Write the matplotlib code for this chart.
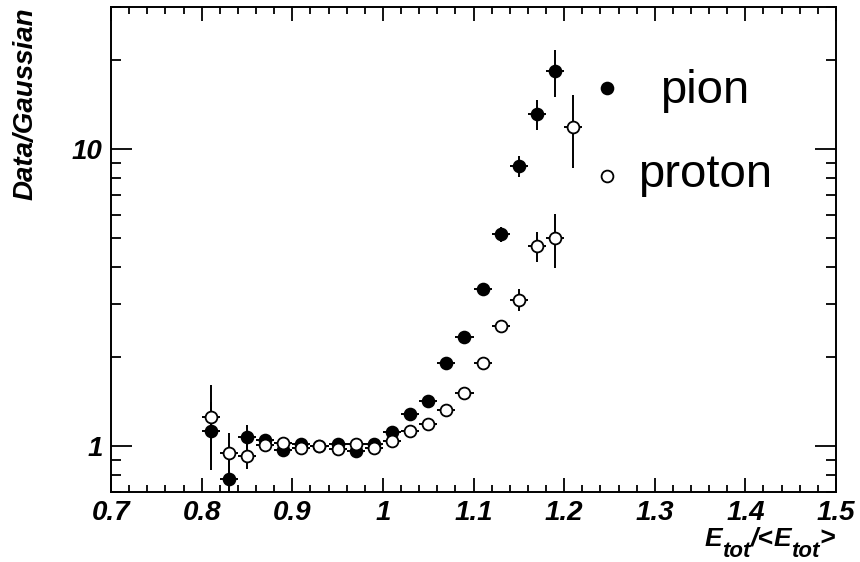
import matplotlib
matplotlib.use("Agg")
import matplotlib.pyplot as plt
from matplotlib.ticker import LogLocator, FixedLocator, MultipleLocator, FuncFormatter, NullFormatter

plt.rcParams['font.family'] = ['Liberation Sans', 'DejaVu Sans']

# bin centres, bin half width 0.01
pion_x = [0.81, 0.83, 0.85, 0.87, 0.89, 0.91, 0.93, 0.95, 0.97, 0.99,
          1.01, 1.03, 1.05, 1.07, 1.09, 1.11, 1.13, 1.15, 1.17, 1.19]
pion_y = [1.12, 0.777, 1.075, 1.05, 0.967, 1.018, 1.0, 1.015, 0.962, 1.015,
          1.118, 1.285, 1.42, 1.905, 2.32, 3.37, 5.17, 8.77, 13.1, 18.3]
pion_err = [0.29, 0.15, 0.10, 0.05, 0.04, 0.02, 0.02, 0.02, 0.02, 0.02,
            0.03, 0.03, 0.04, 0.05, 0.07, 0.12, 0.30, 0.70, 1.5, 3.3]

proton_x = [0.81, 0.83, 0.85, 0.87, 0.89, 0.91, 0.93, 0.95, 0.97, 0.99,
            1.01, 1.03, 1.05, 1.07, 1.09, 1.11, 1.13, 1.15, 1.17, 1.19, 1.21]
proton_y = [1.25, 0.95, 0.926, 1.008, 1.026, 0.988, 1.0, 0.975, 1.018, 0.988,
            1.039, 1.123, 1.19, 1.32, 1.51, 1.90, 2.53, 3.11, 4.70, 5.01, 11.9]
proton_err = [0.35, 0.16, 0.09, 0.05, 0.03, 0.02, 0.02, 0.02, 0.02, 0.02,
              0.02, 0.03, 0.03, 0.04, 0.05, 0.07, 0.10, 0.26, 0.55, 1.05, 3.3]

W, H = 860, 562
fig = plt.figure(figsize=(W/100, H/100), dpi=100)
ax = fig.add_axes([111/W, 1-492/H, 725/W, 484.7/H])

ax.errorbar(pion_x, pion_y, yerr=pion_err, xerr=0.01, fmt='none',
            ecolor='k', elinewidth=1.4, capsize=0, zorder=2)
ax.errorbar(proton_x, proton_y, yerr=proton_err, xerr=0.01, fmt='none',
            ecolor='k', elinewidth=1.4, capsize=0, zorder=2)
ax.plot(pion_x, pion_y, 'o', mfc='k', mec='k', ms=8.5, mew=1.3, zorder=3)
ax.plot(proton_x, proton_y, 'o', mfc='w', mec='k', ms=8.5, mew=1.3, zorder=4)

ax.set_xlim(0.7, 1.5)
ax.set_yscale('log')
ax.set_ylim(0.7, 30)

ax.xaxis.set_major_locator(MultipleLocator(0.1))
ax.xaxis.set_minor_locator(MultipleLocator(0.02))
ax.xaxis.set_major_formatter(FuncFormatter(lambda v, p: '1' if abs(v - 1) < 1e-9 else '%.1f' % v))
ax.yaxis.set_major_locator(FixedLocator([1, 10]))
ax.yaxis.set_minor_locator(LogLocator(base=10, subs=range(2, 10)))
ax.yaxis.set_major_formatter(FuncFormatter(lambda v, p: '%g' % v))
ax.yaxis.set_minor_formatter(NullFormatter())

for s in ax.spines.values():
    s.set_linewidth(1.4)
ax.tick_params(which='both', direction='in', top=True, right=True, width=1.3)
ax.tick_params(axis='x', which='major', length=10, pad=5.5)
ax.tick_params(axis='x', which='minor', length=5)
ax.tick_params(axis='y', which='major', length=15, pad=6)
ax.tick_params(axis='y', which='minor', length=7.5)
for lab in ax.get_xticklabels() + ax.get_yticklabels():
    lab.set_fontsize(20)
    lab.set_fontweight('bold')
    lab.set_fontstyle('italic')

fig.text(26/W, 1-7/H, 'Data/Gaussian', rotation=90, ha='center', va='top',
         fontsize=20, fontweight='bold', fontstyle='italic')

# x title E_tot/<E_tot> built from pieces so the subscripts can be larger
pieces = [('E', 19, 0), ('tot', 16, 11), ('/<', 19, 0), ('E', 19, 0), ('tot', 16, 11), ('>', 19, 0)]
renderer = fig.canvas.get_renderer()
texts = []
total = 0
for s, size, drop in pieces:
    t = fig.text(0, 0, s, fontsize=size, fontweight='bold', fontstyle='italic',
                 ha='left', va='baseline')
    w = t.get_window_extent(renderer).width
    texts.append((t, w, drop))
    total += w
xpos = 835 - total
for t, w, drop in texts:
    t.set_position((xpos/W, 1-(546+drop)/H))
    xpos += w

# key
ax.plot([0.684], [0.834], 'o', mfc='k', mec='k', ms=8.5, mew=1.3, transform=ax.transAxes, clip_on=False)
ax.plot([0.684], [0.652], 'o', mfc='w', mec='k', ms=8.5, mew=1.3, transform=ax.transAxes, clip_on=False)
ax.text(0.819, 0.802, 'pion', transform=ax.transAxes, ha='center', va='baseline', fontsize=34)
ax.text(0.819, 0.630, 'proton', transform=ax.transAxes, ha='center', va='baseline', fontsize=34)

fig.savefig('out.png', dpi=100)
